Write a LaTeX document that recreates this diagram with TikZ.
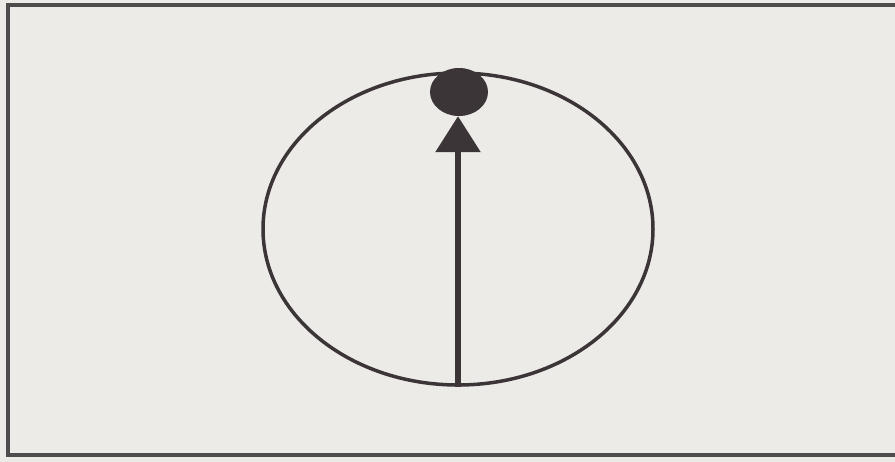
\documentclass[tikz,border=0pt]{standalone}
\usepackage{xcolor}
\usepackage{tikz}
\usetikzlibrary{arrows.meta, positioning, shapes.geometric}

\definecolor{paper}{HTML}{ECEBE8}
\definecolor{ink}{HTML}{3C3538}
\definecolor{rim}{HTML}{4E4C4C}

\begin{document}
\begin{tikzpicture}[x=1pt, y=1pt,
    orbitline/.style={draw=ink, line width=3.5pt},
    ballstyle/.style={ellipse, fill=ink, inner sep=0pt, minimum width=58pt, minimum height=48pt},
    radius vec/.style={draw=ink, line width=6pt, -{Triangle[length=36pt, width=44pt]}}]
  % Page and frame
  \useasboundingbox[fill=paper] (0,0) rectangle (895,462);
  \draw[rim, line width=4pt] (905,457) -- (8,457) -- (8,7) -- (905,7);

  % Ellipse
  \node[ellipse, orbitline, inner sep=0pt, minimum width=390pt, minimum height=312pt]
    (orbit) at (458,233) {};

  % Ball on top
  \node[ballstyle] (ball) at (459,370) {};

  % Arrow from bottom to ball
  \draw[radius vec] (orbit.south) -- (orbit.south |- ball.south);
\end{tikzpicture}
\end{document}
